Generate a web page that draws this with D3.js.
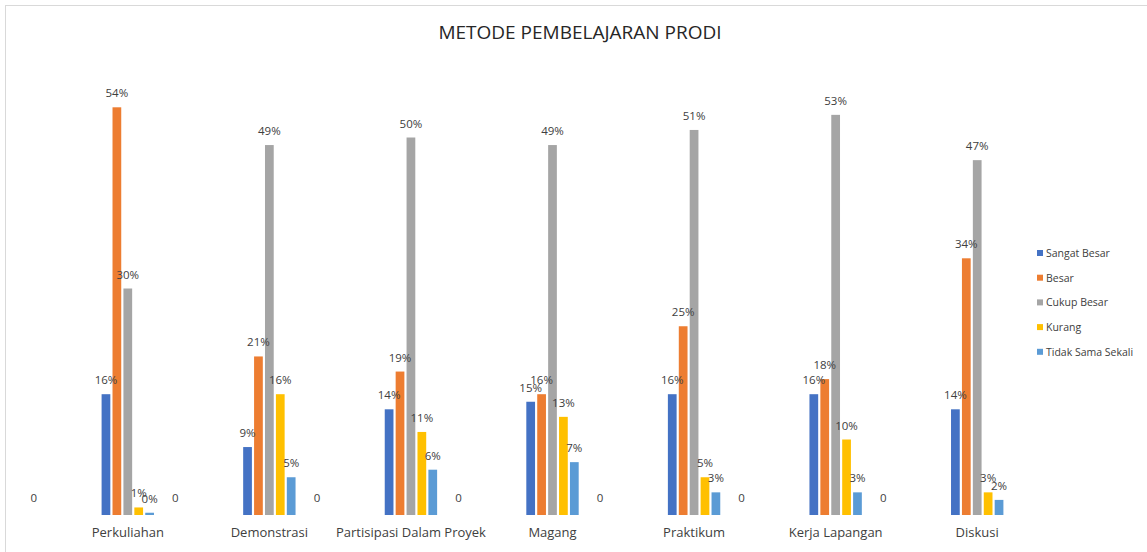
<!DOCTYPE html>
<html>
<head>
<meta charset="utf-8">
<script src="https://cdn.jsdelivr.net/npm/d3@7"></script>
<style>
  body { margin: 0; background: #fff; }
  svg { display: block; font-family: "Open Sans", sans-serif; }
</style>
</head>
<body>
<div id="chart"></div>
<script>
// data (percent)
const categories = ["Perkuliahan", "Demonstrasi", "Partisipasi Dalam Proyek", "Magang", "Praktikum", "Kerja Lapangan", "Diskusi"];
const seriesNames = ["Sangat Besar", "Besar", "Cukup Besar", "Kurang", "Tidak Sama Sekali"];
const sangatBesar = [16, 9, 14, 15, 16, 16, 14];
const besar = [54, 21, 19, 16, 25, 18, 34];
const cukupBesar = [30, 49, 50, 49, 51, 53, 47];
const kurang = [1, 16, 11, 13, 5, 10, 3];
const tidakSamaSekali = [0.3, 5, 6, 7, 3, 3, 2];
const kosong = [0, 0, 0, 0, 0, 0, 0]; // the stray "0" labels
const colors = ["#4472C4", "#ED7D31", "#A5A5A5", "#FFC000", "#5B9BD5"];

const width = 1147, height = 552;
const baseY = 515;

const seriesValues = [sangatBesar, besar, cukupBesar, kurang, tidakSamaSekali];
const rows = categories.map((c, i) => ({
  cat: c,
  vals: seriesNames.map((s, j) => ({ key: s, idx: j, value: seriesValues[j][i] })),
  zero: kosong[i]
}));

const svg = d3.select("#chart").append("svg")
  .attr("width", width)
  .attr("height", height);

// chart border
svg.append("rect")
  .attr("x", 5.5).attr("y", 5.5)
  .attr("width", width + 10).attr("height", height + 10)
  .attr("fill", "none")
  .attr("stroke", "#d9d9d9");

svg.append("text")
  .attr("x", 580).attr("y", 39)
  .attr("text-anchor", "middle")
  .attr("font-size", 19)
  .attr("fill", "#262626")
  .text("METODE PEMBELAJARAN PRODI");

const x0 = d3.scaleBand()
  .domain(categories)
  .range([57, 1048])
  .paddingInner(0.63)
  .paddingOuter(0.315);

const x1 = d3.scaleBand()
  .domain(seriesNames)
  .range([0, x0.bandwidth()])
  .paddingInner(0.2);

const y = d3.scaleLinear()
  .domain([0, 60])
  .range([baseY, baseY - 7.55 * 60]);

const color = d3.scaleOrdinal().domain(seriesNames).range(colors);

const groups = svg.selectAll("g.group")
  .data(rows)
  .enter()
  .append("g")
  .attr("class", "group")
  .attr("transform", d => `translate(${x0(d.cat)},0)`);

groups.selectAll("rect")
  .data(d => d.vals)
  .enter()
  .append("rect")
  .attr("x", d => x1(d.key))
  .attr("y", d => y(d.value))
  .attr("width", x1.bandwidth())
  .attr("height", d => baseY - y(d.value))
  .attr("fill", d => color(d.key));

// value labels
groups.selectAll("text.val")
  .data(d => d.vals)
  .enter()
  .append("text")
  .attr("class", "val")
  .attr("x", d => x1(d.key) + x1.bandwidth() / 2)
  .attr("y", d => y(d.value) - 10)
  .attr("text-anchor", "middle")
  .attr("font-size", 11.5)
  .attr("fill", "#404040")
  .text(d => Math.round(d.value) + "%");

// the "0" labels sitting left of each group
groups.append("text")
  .attr("x", x0.bandwidth() / 2 - 94)
  .attr("y", 502)
  .attr("text-anchor", "middle")
  .attr("font-size", 11.5)
  .attr("fill", "#404040")
  .text(d => d.zero);

// category axis labels
const xAxis = d3.axisBottom(x0).tickSize(0).tickPadding(13);
const axisG = svg.append("g")
  .attr("transform", `translate(0,${baseY})`)
  .call(xAxis);
axisG.select(".domain").remove();
axisG.selectAll("text")
  .attr("font-size", 13)
  .attr("font-family", "Open Sans, sans-serif")
  .attr("fill", "#404040");

// legend
const legend = svg.append("g")
  .attr("transform", "translate(1037,253)");
const li = legend.selectAll("g")
  .data(seriesNames)
  .enter()
  .append("g")
  .attr("transform", (d, i) => `translate(0,${i * 24.7})`);
li.append("rect")
  .attr("x", 0).attr("y", -3)
  .attr("width", 6).attr("height", 6)
  .attr("fill", d => color(d));
li.append("text")
  .attr("x", 9).attr("y", 4)
  .attr("font-size", 10.5)
  .attr("fill", "#404040")
  .text(d => d);
</script>
</body>
</html>
